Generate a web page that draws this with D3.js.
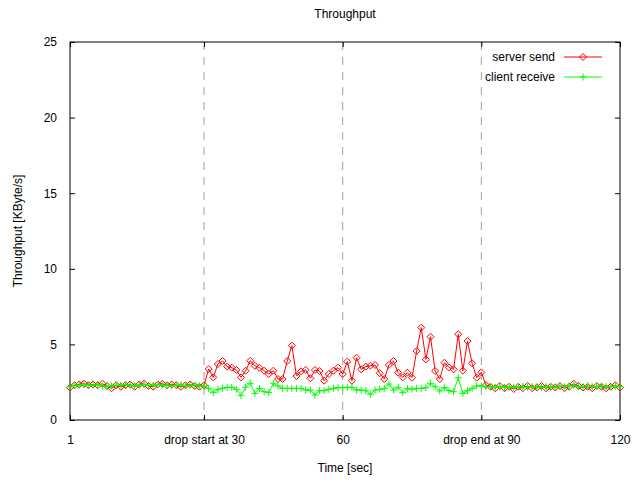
<!DOCTYPE html>
<html>
<head>
<meta charset="utf-8">
<script src="https://cdn.jsdelivr.net/npm/d3@7"></script>
<style>
  body { margin: 0; background: #fff; }
  text { font-family: "Liberation Sans", Arial, sans-serif; font-size: 12px; fill: #000; }
</style>
</head>
<body>
<div id="chart"></div>
<script>
// 数据：每秒一个点，t = 1..120
const seconds = d3.range(1, 121);

const serverSend = [
  2.15, 2.3, 2.35, 2.4, 2.3, 2.35, 2.3, 2.4, 2.25, 2.1,
  2.3, 2.2, 2.3, 2.35, 2.2, 2.35, 2.4, 2.25, 2.2, 2.35,
  2.4, 2.3, 2.35, 2.3, 2.2, 2.3, 2.35, 2.25, 2.2, 2.3,
  3.37, 2.82, 3.7, 3.9, 3.53, 3.46, 3.31, 2.82, 3.26, 3.92,
  3.59, 3.46, 3.26, 3.04, 3.26, 2.71, 2.71, 3.9, 4.92, 2.91,
  3.22, 3.31, 2.76, 3.31, 3.24, 2.6, 3.04, 3.26, 3.46, 3.04,
  3.86, 2.6, 4.12, 3.35, 3.53, 3.59, 3.64, 3.09, 2.71, 3.64,
  3.9, 3.13, 2.82, 3.13, 2.8, 4.56, 6.11, 4.01, 5.51, 3.24,
  2.71, 3.79, 3.48, 3.35, 5.67, 3.26, 5.22, 3.75, 2.8, 3.15,
  2.31, 2.2, 2.1, 2.25, 2.1, 2.2, 2.05, 2.2, 2.1, 2.25,
  2.1, 2.15, 2.25, 2.1, 2.2, 2.15, 2.25, 2.1, 2.2, 2.4,
  2.25, 2.15, 2.2, 2.1, 2.25, 2.2, 2.1, 2.2, 2.3, 2.15
];

const clientReceive = [
  2.2, 2.3, 2.3, 2.35, 2.3, 2.3, 2.35, 2.25, 2.2, 2.25,
  2.3, 2.3, 2.35, 2.3, 2.25, 2.3, 2.35, 2.3, 2.3, 2.35,
  2.3, 2.3, 2.25, 2.3, 2.3, 2.25, 2.3, 2.3, 2.25, 2.25,
  2.09, 1.81, 2.03, 2.09, 2.16, 2.16, 2.03, 1.61, 2.16, 2.43,
  1.76, 2.09, 1.87, 1.81, 2.43, 2.25, 2.09, 2.09, 2.09, 2.09,
  2.09, 1.98, 1.98, 1.65, 1.94, 1.94, 2.03, 2.09, 2.14, 2.14,
  2.16, 2.16, 1.98, 1.98, 1.94, 1.7, 1.98, 2.03, 2.09, 2.38,
  1.98, 2.16, 1.81, 2.09, 2.03, 2.09, 2.09, 2.14, 2.43, 2.2,
  1.92, 2.14, 1.94, 1.87, 2.8, 1.76, 1.94, 2.09, 2.25, 2.25,
  2.2, 2.2, 2.15, 2.2, 2.15, 2.2, 2.15, 2.2, 2.2, 2.15,
  2.2, 2.2, 2.15, 2.2, 2.2, 2.2, 2.25, 2.2, 2.25, 2.3,
  2.2, 2.2, 2.25, 2.2, 2.2, 2.25, 2.2, 2.2, 2.25, 2.2
];

const xTicks = [1, 30, 60, 90, 120];
const xTickLabels = ["1", "drop start at 30", "60", "drop end at 90", "120"];
const yTicks = [0, 5, 10, 15, 20, 25];
const gridAt = [30, 60, 90];

const W = 634, H = 483;
const margin = {top: 42, right: 14, bottom: 63, left: 70};
const width = W - margin.left - margin.right;
const height = H - margin.top - margin.bottom;

const svg = d3.select('#chart').append('svg')
  .attr('width', W).attr('height', H);

const g = svg.append('g')
  .attr('transform', `translate(${margin.left},${margin.top})`);

const x = d3.scaleLinear().domain([1, 120]).range([0, width]);
const y = d3.scaleLinear().domain([0, 25]).range([height, 0]);

// 灰色虚线网格
g.selectAll('.grid')
  .data(gridAt)
  .enter().append('line')
  .attr('x1', d => x(d)).attr('x2', d => x(d))
  .attr('y1', 0).attr('y2', height)
  .attr('stroke', '#a0a0a0')
  .attr('stroke-dasharray', '8,7');

// 坐标轴（刻度朝内，四边镜像）
const tickLen = 5;
const axisB = g.append('g').attr('transform', `translate(0,${height})`)
  .call(d3.axisBottom(x).tickValues(xTicks).tickFormat((d, i) => xTickLabels[i])
    .tickSizeInner(-tickLen).tickSizeOuter(0).tickPadding(15));
const axisT = g.append('g')
  .call(d3.axisTop(x).tickValues(xTicks).tickFormat('').tickSizeInner(-tickLen).tickSizeOuter(0));
const axisL = g.append('g')
  .call(d3.axisLeft(y).tickValues(yTicks).tickSizeInner(-tickLen).tickSizeOuter(0).tickPadding(13));
const axisR = g.append('g').attr('transform', `translate(${width},0)`)
  .call(d3.axisRight(y).tickValues(yTicks).tickFormat('').tickSizeInner(-tickLen).tickSizeOuter(0));

[axisB, axisT, axisL, axisR].forEach(a => {
  a.select('.domain').remove();
  a.selectAll('line').attr('stroke', '#000');
  a.selectAll('text').style('font-family', '"Liberation Sans", Arial, sans-serif').style('font-size', '12px');
});

// 边框
g.append('rect')
  .attr('width', width).attr('height', height)
  .attr('fill', 'none').attr('stroke', '#000').attr('stroke-width', 1);

// 图例（白底遮住网格线）
const legend = g.append('g');
legend.append('rect')
  .attr('x', x(90) + 1).attr('y', 4).attr('width', width - x(90) - 6).attr('height', 44)
  .attr('fill', '#fff');

function plusPath(cx, cy, r) {
  return `M${cx - r},${cy}H${cx + r}M${cx},${cy - r}V${cy + r}`;
}
function diamondPath(cx, cy, r) {
  return `M${cx},${cy - r}L${cx + r},${cy}L${cx},${cy + r}L${cx - r},${cy}Z`;
}

const series = [
  {name: 'server send', values: serverSend, color: '#ff0000', marker: 'diamond'},
  {name: 'client receive', values: clientReceive, color: '#00ff00', marker: 'plus'}
];

const line = d3.line().x((d, i) => x(seconds[i])).y(d => y(d));

series.forEach((s, si) => {
  g.append('path')
    .attr('d', line(s.values))
    .attr('fill', 'none')
    .attr('stroke', s.color)
    .attr('stroke-width', 1);

  g.append('path')
    .attr('d', s.values.map((v, i) => s.marker === 'diamond'
      ? diamondPath(x(seconds[i]), y(v), 3.5)
      : plusPath(x(seconds[i]), y(v), 3.5)).join(''))
    .attr('fill', 'none')
    .attr('stroke', s.color)
    .attr('stroke-width', 1);

  const ly = 15 + si * 20;
  legend.append('text')
    .attr('x', 485).attr('y', ly).attr('dy', '0.35em')
    .attr('text-anchor', 'end')
    .text(s.name);
  legend.append('line')
    .attr('x1', 494).attr('x2', 532).attr('y1', ly).attr('y2', ly)
    .attr('stroke', s.color);
  legend.append('path')
    .attr('d', s.marker === 'diamond' ? diamondPath(513, ly, 3.5) : plusPath(513, ly, 3.5))
    .attr('fill', 'none').attr('stroke', s.color);
});

// 标题与坐标轴标题
svg.append('text')
  .attr('x', margin.left + width / 2).attr('y', 18)
  .attr('text-anchor', 'middle').text('Throughput');
svg.append('text')
  .attr('x', margin.left + width / 2).attr('y', 472)
  .attr('text-anchor', 'middle').text('Time [sec]');
svg.append('text')
  .attr('transform', `translate(22,${margin.top + height / 2}) rotate(-90)`)
  .attr('text-anchor', 'middle').text('Throughput [KByte/s]');
</script>
</body>
</html>
